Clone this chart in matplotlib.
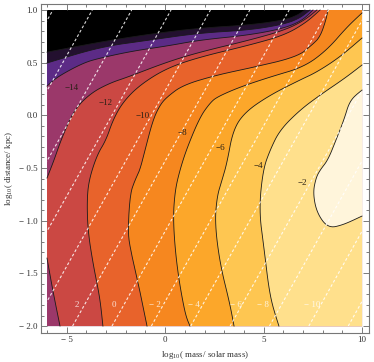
import numpy as np
import matplotlib
matplotlib.use('Agg')
import matplotlib.pyplot as plt
from matplotlib.ticker import MultipleLocator, FuncFormatter
from matplotlib.patches import Rectangle

plt.rcParams['font.family'] = 'Liberation Serif'
plt.rcParams['mathtext.fontset'] = 'custom'
plt.rcParams['mathtext.rm'] = 'Liberation Serif'
plt.rcParams['mathtext.it'] = 'Liberation Serif:italic'

# extensão dos dados
x_lim = [-6, 10]
y_lim = [-2, 1]

# níveis de contorno e cores das faixas (da mais baixa para a mais alta)
niveis = [-20, -18, -16, -14, -12, -10, -8, -6, -4, -2]
cores = ['#000000', '#23102f', '#5c2b86', '#9b386a', '#cb4843', '#e8632b',
         '#f6871f', '#fca72a', '#fec651', '#ffe08c', '#fff5db']

# linhas de contorno (x = log10 massa, y = log10 distância)
c20_x = [-6, -3.31, -0.77, 1.77, 4.31, 6.09, 6.75, 7.10]
c20_y = [0.60, 0.696, 0.772, 0.829, 0.858, 0.905, 0.953, 1.0]
c18_x = [-6, -3.31, -0.77, 1.77, 4.31, 6.09, 6.85, 7.36]
c18_y = [0.497, 0.649, 0.715, 0.782, 0.810, 0.867, 0.924, 1.0]
c16_x = [-6, -5.49, -4.17, -3.31, -1.63, 0.09, 1.77, 4.31, 6.09, 7.00, 7.51]
c16_y = [0.278, 0.364, 0.497, 0.544, 0.611, 0.658, 0.715, 0.763, 0.829, 0.905, 1.0]
c14a_x = [-6, -5.64, -5.29, -4.63, -3.77, -2.80, -1.89, 0.09, 1.77, 4.31, 6.09, 7.10, 7.71]
c14a_y = [-0.595, -0.424, -0.234, 0.051, 0.212, 0.307, 0.364, 0.506, 0.601, 0.715, 0.810, 0.905, 1.0]
c14b_x = [-5.34, -5.70, -6]
c14b_y = [-2.0, -1.668, -1.355]
c12_x = [-3.16, -3.31, -3.66, -3.92, -3.97, -3.87, -3.46, -3.00, -2.65, -2.14, -1.28, 0.09, 1.77, 4.31, 6.09, 7.20, 7.87]
c12_y = [-2.0, -1.734, -1.411, -1.098, -0.813, -0.614, -0.377, -0.234, -0.044, 0.127, 0.289, 0.449, 0.554, 0.668, 0.763, 0.886, 1.0]
c10_x = [-0.92, -1.28, -1.78, -1.89, -1.78, -1.53, -1.28, -1.02, -0.62, -0.26, 0.09, 0.91, 2.63, 4.31, 6.70, 7.46, 7.87, 8.17, 8.27]
c10_y = [-2.0, -1.668, -1.260, -1.098, -0.747, -0.614, -0.519, -0.329, -0.044, 0.098, 0.174, 0.288, 0.383, 0.449, 0.554, 0.668, 0.744, 0.905, 1.0]
c8_x = [1.26, 1.01, 0.60, 0.40, 0.50, 0.75, 1.11, 1.77, 2.28, 2.63, 3.80, 5.33, 7.05, 8.22, 9.24, 10]
c8_y = [-2.0, -1.886, -1.449, -1.003, -0.718, -0.519, -0.310, -0.016, 0.117, 0.174, 0.269, 0.364, 0.459, 0.620, 0.839, 0.972]
c6_x = [3.50, 3.29, 2.79, 2.53, 2.63, 2.89, 3.14, 3.45, 4.06, 5.33, 6.85, 7.71, 8.88, 10]
c6_y = [-2.0, -1.791, -1.411, -1.031, -0.775, -0.614, -0.453, -0.139, 0.032, 0.193, 0.336, 0.411, 0.554, 0.734]
c4_x = [5.78, 5.33, 5.02, 4.77, 4.97, 5.33, 5.83, 6.85, 7.87, 9.14, 10]
c4_y = [-2.0, -1.734, -1.26, -0.899, -0.519, -0.329, -0.139, 0.051, 0.193, 0.354, 0.478]
c2_x = [10, 9.03, 8.27, 7.71, 7.51, 7.66, 7.87, 8.27, 8.68, 9.08, 9.39, 10]
c2_y = [-0.956, -1.041, -1.070, -0.927, -0.738, -0.595, -0.519, -0.424, -0.234, -0.044, 0.146, 0.240]

contornos = {
    -20: [(c20_x, c20_y)],
    -18: [(c18_x, c18_y)],
    -16: [(c16_x, c16_y)],
    -14: [(c14a_x, c14a_y), (c14b_x, c14b_y)],
    -12: [(c12_x, c12_y)],
    -10: [(c10_x, c10_y)],
    -8: [(c8_x, c8_y)],
    -6: [(c6_x, c6_y)],
    -4: [(c4_x, c4_y)],
    -2: [(c2_x, c2_y)],
}

# rótulos dos contornos
rotulos_txt = ['\u221214', '\u221212', '\u221210', '\u22128', '\u22126', '\u22124', '\u22122']
rotulos_x = [-4.73, -3.05, -1.12, 0.86, 2.79, 4.72, 6.95]
rotulos_y = [0.26, 0.117, -0.006, -0.168, -0.31, -0.48, -0.64]

# linhas tracejadas (retas): x em y = -2 e x em y = 1
tracejado_base = [-14.7, -12.7, -10.7, -8.7, -6.7, -4.7, -2.7, -0.7, 1.3, 3.3, 5.3, 7.3, 9.3]
tracejado_topo = [-5.7, -3.7, -1.7, 0.3, 2.3, 4.3, 6.3, 8.3, 10.3, 12.3, 14.3, 16.3, 18.3]
tracejado_txt = ['2', '0', '\u2212 2', '\u2212 4', '\u2212 6', '\u2212 8', '\u2212 10']
tracejado_txt_x = [-4.48, -2.60, -0.51, 1.47, 3.60, 4.97, 7.46]
tracejado_txt_y = -1.80

x0, x1 = x_lim
y0, y1 = y_lim
W = x1 - x0
H = y1 - y0
perimetro = 2 * (W + H)
cantos = [(H, (x0, y1)), (H + W, (x1, y1)), (2 * H + W, (x1, y0)), (perimetro, (x0, y0))]


def suavizar(x, y, n=3):
    # cortes de canto (Chaikin) só para desenhar a curva lisa
    p = np.column_stack([x, y]).astype(float)
    for _ in range(n):
        q = 0.75 * p[:-1] + 0.25 * p[1:]
        r = 0.25 * p[:-1] + 0.75 * p[1:]
        meio = np.empty((2 * len(q), 2))
        meio[0::2] = q
        meio[1::2] = r
        p = np.vstack([p[0], meio[1:-1], p[-1]])
    return list(p[:, 0]), list(p[:, 1])


def pos_borda(x, y):
    # posição ao longo da borda, sentido horário a partir do canto inferior esquerdo
    if abs(x - x0) < 1e-9:
        return y - y0
    if abs(y - y1) < 1e-9:
        return H + (x - x0)
    if abs(x - x1) < 1e-9:
        return H + W + (y1 - y)
    return 2 * H + W + (x1 - x)


def cantos_entre(pa, pb):
    ta = pos_borda(*pa)
    tb = pos_borda(*pb)
    if tb <= ta:
        tb += perimetro
    pts = []
    for k in range(2):
        for t, c in cantos:
            if ta < t + k * perimetro < tb:
                pts.append(c)
    return pts


def poligono(pecas):
    xs, ys = [], []
    for i, (px, py) in enumerate(pecas):
        xs += list(px)
        ys += list(py)
        prox = pecas[(i + 1) % len(pecas)]
        for c in cantos_entre((px[-1], py[-1]), (prox[0][0], prox[1][0])):
            xs.append(c[0])
            ys.append(c[1])
    return xs, ys


def rotulo_eixo(fmt):
    # estilo Mathematica: sinal de menos separado do número
    def f(v, pos):
        s = fmt % abs(v)
        return ('\u2212 ' + s) if v < -1e-9 else s
    return FuncFormatter(f)


lisos = {n: [suavizar(px, py) for px, py in pecas] for n, pecas in contornos.items()}

fig = plt.figure(figsize=(3.74, 3.62), dpi=100)
ax = fig.add_axes([41 / 374, 1 - 333 / 362, 328 / 374, 329 / 362])

# fundo = faixa mais baixa
ax.fill([x0, x1, x1, x0], [y0, y0, y1, y1], color=cores[0], lw=0)
for i, nivel in enumerate(niveis):
    xs, ys = poligono(lisos[nivel])
    ax.fill(xs, ys, color=cores[i + 1], lw=0)
for nivel in niveis:
    for px, py in lisos[nivel]:
        ax.plot(px, py, color='#1a1a1a', lw=0.6)

# linhas tracejadas brancas
clip = Rectangle((x0, y0), W, H, transform=ax.transData, facecolor='none', edgecolor='none')
ax.add_patch(clip)
for xb, xt in zip(tracejado_base, tracejado_topo):
    linha, = ax.plot([xb, xt], [y0, y1], color='white', lw=0.8,
                     alpha=0.85, dashes=(2.5, 2))
    linha.set_clip_path(clip)

for t, x in zip(tracejado_txt, tracejado_txt_x):
    ax.text(x, tracejado_txt_y, t, color='white', alpha=0.8, fontsize=6.5,
            ha='center', va='center')

for t, x, y in zip(rotulos_txt, rotulos_x, rotulos_y):
    ax.text(x, y, t, color='#2a2015', fontsize=6.5, ha='center', va='center')

ax.set_xlim(-6.305, 10.355)
ax.set_ylim(-2.066, 1.057)

for lado in ax.spines.values():
    lado.set_color('#777777')
    lado.set_linewidth(0.8)
ax.xaxis.set_major_locator(MultipleLocator(5))
ax.xaxis.set_minor_locator(MultipleLocator(1))
ax.yaxis.set_major_locator(MultipleLocator(0.5))
ax.yaxis.set_minor_locator(MultipleLocator(0.1))
ax.xaxis.set_major_formatter(rotulo_eixo('%g'))
ax.yaxis.set_major_formatter(rotulo_eixo('%.1f'))
ax.tick_params(which='both', direction='in', top=True, right=True, color='#666666',
               labelsize=6.5, labelcolor='#333333', width=0.6, pad=2.5)
ax.tick_params(which='major', length=4)
ax.tick_params(which='minor', length=2)

ax.set_xlabel(r'$\mathregular{log_{10}}$( mass/ solar mass)', fontsize=6.5, color='#333333', labelpad=3)
ax.set_ylabel(r'$\mathregular{log_{10}}$( distance/ kpc)', fontsize=6.5, color='#333333', labelpad=3)

fig.savefig('out.png', dpi=100)
